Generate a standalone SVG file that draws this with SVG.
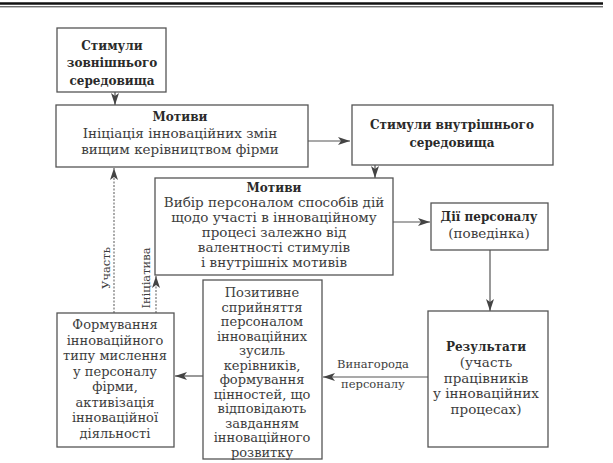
<svg xmlns="http://www.w3.org/2000/svg" width="613" height="463" viewBox="0 0 613 463">
<defs>
<style>
.box{fill:#fff;stroke:#555;stroke-width:1.3}
text{font-family:"DejaVu Serif",serif;font-size:13.5px;fill:#3d3d3d;text-anchor:middle}
.s{font-size:13px}
.b{font-weight:bold;fill:#2a2a2a;font-size:12px}
.ln{stroke:#555;stroke-width:1.2;fill:none}
.dl{stroke:#666;stroke-width:1.1;fill:none;stroke-dasharray:2 1.5}
.lab{font-size:11.5px}
</style>
<marker id="ah" viewBox="0 0 12 8" refX="12" refY="4" markerWidth="12" markerHeight="8" markerUnits="userSpaceOnUse" orient="auto">
<path d="M0,0 L12,4 L0,8 L3,4 Z" fill="#444"/>
</marker>
</defs>
<rect width="613" height="463" fill="#fff"/>
<line x1="0" y1="3.5" x2="603" y2="3.5" stroke="#111" stroke-width="2.5"/>
<line x1="0" y1="6.8" x2="603" y2="6.8" stroke="#333" stroke-width="1"/>

<g id="connectors">
<line class="ln" x1="115" y1="92" x2="115" y2="105" marker-end="url(#ah)"/>
<line class="ln" x1="308" y1="141" x2="350" y2="141" marker-end="url(#ah)"/>
<line class="ln" x1="375" y1="165" x2="375" y2="178" marker-end="url(#ah)"/>
<line class="ln" x1="393" y1="222" x2="430" y2="222" marker-end="url(#ah)"/>
<line class="ln" x1="490" y1="250" x2="490" y2="311" marker-end="url(#ah)"/>
<line class="ln" x1="428" y1="377" x2="323" y2="377" marker-end="url(#ah)"/>
<line class="ln" x1="203" y1="376" x2="175" y2="376" marker-end="url(#ah)"/>
<line class="dl" x1="114" y1="313" x2="114" y2="168" marker-end="url(#ah)"/>
<line class="dl" x1="156" y1="313" x2="156" y2="276" marker-end="url(#ah)"/>
<text class="lab" transform="translate(110,268) rotate(-90)">Участь</text>
<text class="lab" transform="translate(150,278) rotate(-90)">Ініціатива</text>
<text class="lab" x="373" y="368">Винагорода</text>
<text class="lab" x="373" y="388">персоналу</text>
</g>

<g id="n1">
<rect class="box" x="57" y="28" width="109" height="64"/>
<text class="b" x="112" y="50">Стимули</text>
<text class="b" x="112" y="67">зовнішнього</text>
<text class="b" x="112" y="85">середовища</text>
</g>
<g id="n2">
<rect class="box" x="56" y="105" width="252" height="62"/>
<text class="b" x="180" y="121">Мотиви</text>
<text x="180" y="138">Ініціація інноваційних змін</text>
<text x="180" y="154">вищим керівництвом фірми</text>
</g>
<g id="n3">
<rect class="box" x="352" y="105" width="201" height="60"/>
<text class="b" x="452" y="129">Стимули внутрішнього</text>
<text class="b" x="452" y="147">середовища</text>
</g>
<g id="n4">
<rect class="box" x="155" y="178" width="238" height="97"/>
<text class="b" x="274" y="192">Мотиви</text>
<text x="274" y="207">Вибір персоналом способів дій</text>
<text x="274" y="222">щодо участі в інноваційному</text>
<text x="274" y="237">процесі залежно від</text>
<text x="274" y="252">валентності стимулів</text>
<text x="274" y="267">і внутрішніх мотивів</text>
</g>
<g id="n5">
<rect class="box" x="431" y="203" width="117" height="47"/>
<text class="b" x="489" y="221">Дії персоналу</text>
<text x="489" y="238">(поведінка)</text>
</g>
<g id="n6">
<rect class="box" x="428" y="311" width="120" height="136"/>
<text class="b" x="486" y="351">Результати</text>
<text x="486" y="367">(участь</text>
<text x="486" y="383">працівників</text>
<text x="486" y="398">у інноваційних</text>
<text x="486" y="414">процесах)</text>
</g>
<g id="n7" class="s">
<rect class="box" x="203" y="280" width="119" height="179"/>
<text class="s" x="262" y="297">Позитивне</text>
<text class="s" x="262" y="311.5">сприйняття</text>
<text class="s" x="262" y="326">персоналом</text>
<text class="s" x="262" y="340.5">інноваційних</text>
<text class="s" x="262" y="355">зусиль</text>
<text class="s" x="262" y="369.5">керівників,</text>
<text class="s" x="262" y="384">формування</text>
<text class="s" x="262" y="398.5">цінностей, що</text>
<text class="s" x="262" y="413">відповідають</text>
<text class="s" x="262" y="427.5">завданням</text>
<text class="s" x="262" y="442">інноваційного</text>
<text class="s" x="262" y="456.5">розвитку</text>
</g>
<g id="n8">
<rect class="box" x="57" y="313" width="117" height="134"/>
<text class="s" x="115" y="329">Формування</text>
<text class="s" x="115" y="344.5">інноваційного</text>
<text class="s" x="115" y="360">типу мислення</text>
<text class="s" x="115" y="375.5">у персоналу</text>
<text class="s" x="115" y="391">фірми,</text>
<text class="s" x="115" y="406.5">активізація</text>
<text class="s" x="115" y="422">інноваційної</text>
<text class="s" x="115" y="437.5">діяльності</text>
</g>
</svg>
